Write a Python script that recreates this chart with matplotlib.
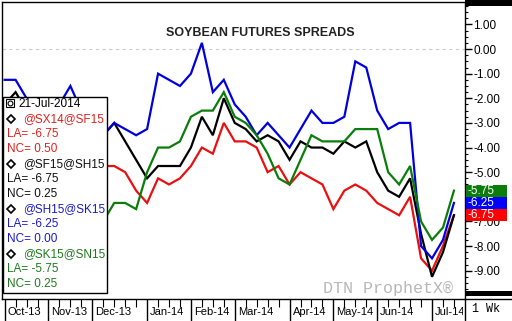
import matplotlib
matplotlib.use('Agg')
import matplotlib.pyplot as plt
import matplotlib.transforms as mtransforms
from matplotlib.patches import Rectangle
from matplotlib.lines import Line2D
from matplotlib.ticker import MultipleLocator
import numpy as np
import pandas as pd

W, H = 512, 321

# weekly (Monday) spread closes, Oct-2013 .. 21-Jul-2014
weeks = pd.date_range('2013-10-07', '2014-07-21', freq='W-MON')

sx14_sf15 = [-4.5, -4.25, -4.5, -4.75, -5.0, -4.75, -4.5, -4.75, -5.0, -4.75,
             -4.75, -5.0, -5.75, -6.25, -5.25, -5.5, -5.25, -4.75, -4.0, -4.25,
             -3.0, -3.75, -3.75, -4.0, -5.0, -4.75, -5.5, -5.0, -5.25, -5.5,
             -6.5, -5.75, -5.5, -5.75, -6.25, -6.5, -6.75, -6.0, -8.5, -9.0,
             -8.0, -6.75]
sf15_sh15 = [-2.25, -1.75, -2.5, -3.0, -3.25, -3.0, -2.75, -3.0, -3.5, -3.5,
             -3.0, -3.75, -4.5, -5.25, -4.75, -4.75, -4.75, -4.0, -2.75, -3.5,
             -2.0, -3.0, -3.25, -3.75, -3.5, -3.75, -4.5, -3.75, -4.0, -4.0,
             -4.25, -3.75, -4.0, -3.75, -5.0, -5.75, -6.0, -5.25, -7.5, -9.25,
             -8.25, -6.75]
sh15_sk15 = [-1.25, -1.25, -2.0, -2.25, -2.5, -2.25, -1.5, -2.5, -3.0, -3.5,
             -3.0, -3.25, -3.5, -3.25, -1.0, -1.25, -1.5, -1.0, 0.25, -1.75,
             -1.25, -2.25, -2.75, -3.5, -3.0, -3.5, -4.0, -3.25, -2.5, -3.0,
             -3.0, -2.75, -0.5, -0.75, -2.5, -3.25, -3.0, -3.0, -8.0, -8.5,
             -7.75, -6.25]
sk15_sn15 = [-6.5, -6.75, -7.0, -6.75, -6.5, -6.75, -7.0, -6.75, -6.75, -7.0,
             -6.25, -6.25, -6.5, -5.0, -4.0, -4.0, -3.75, -2.75, -2.5, -2.5,
             -1.75, -2.75, -3.0, -3.5, -4.25, -5.25, -5.5, -4.5, -3.5, -3.75,
             -3.75, -3.75, -3.25, -3.25, -3.25, -5.0, -5.5, -4.75, -7.0, -7.75,
             -7.25, -5.75]

series = [sx14_sf15, sf15_sh15, sh15_sk15, sk15_sn15]
names = ['@SX14@SF15', '@SF15@SH15', '@SH15@SK15', '@SK15@SN15']
net_change = [0.50, 0.25, 0.00, 0.25]
line_colors = ['#e81010', '#000000', '#0000dd', '#0a7d0a']
text_colors = ['#e0201c', '#111111', '#1a1acc', '#1f7a1f']
box_colors = ['#ff0000', '#0000ff', '#0a7d0a']  # red, blue, green tags
y_ticks = np.arange(-9, 2)

plt.rcParams['font.family'] = ['Liberation Sans', 'DejaVu Sans']


def fx(px):
    return px / W


def fy(py):
    return 1 - py / H


fig = plt.figure(figsize=(W / 100, H / 100), dpi=100)
ax = fig.add_axes([fx(2), fy(299), fx(465) - fx(2), fy(2) - fy(299)])

x = np.arange(len(weeks))
for vals, c in zip(series, line_colors):
    ax.plot(x, vals, color=c, lw=1.6, zorder=2, solid_joinstyle='miter')

ax.axhline(0, color='#cccccc', lw=0.8, ls=(0, (3, 3)), zorder=1)

ax.set_xlim(-0.24, 42.01)
ax.set_ylim(-10.15, 1.91)

# right value axis (the -6.00 label sits under the value tags)
ax.yaxis.tick_right()
ax.set_yticks(y_ticks)
ax.set_yticklabels(['' if v == -6 else f'{v:.2f}' for v in y_ticks])
ax.yaxis.set_minor_locator(MultipleLocator(0.25))
ax.tick_params(axis='y', which='major', length=5, width=1, pad=1, labelsize=8.5)
ax.tick_params(axis='y', which='minor', length=2.5, width=0.8)

# x axis: weekly ticks, month separators
month_start = [i for i in range(len(weeks)) if i == 0 or weeks[i].month != weeks[i - 1].month]
ax.set_xticks(month_start)
ax.set_xticklabels([])
ax.set_xticks(x, minor=True)
ax.tick_params(axis='x', which='major', length=16, width=1)
ax.tick_params(axis='x', which='minor', length=5.5, width=0.8)

for s in ax.spines.values():
    s.set_linewidth(1.0)
    s.set_color('black')

clip = mtransforms.TransformedBbox(mtransforms.Bbox([[0, 0], [fx(463), 1]]), fig.transFigure)
lab_trans = mtransforms.blended_transform_factory(ax.transData, fig.transFigure) + \
    mtransforms.ScaledTranslation(3 / 100, 0, fig.dpi_scale_trans)
for i in month_start:
    t = ax.text(i, fy(312), weeks[i].strftime('%b-%y'), transform=lab_trans,
                ha='left', va='center', fontsize=8)
    t.set_clip_on(True)
    t.set_clip_box(clip)

# last value tags on the right axis
tag_trans = mtransforms.blended_transform_factory(ax.transAxes, ax.transData)
for vals, c in zip([sk15_sn15, sh15_sk15, sx14_sf15], [box_colors[2], box_colors[1], box_colors[0]]):
    v = vals[-1]
    ax.add_patch(Rectangle((1.0 + 1 / 463, v - 0.245), 41 / 463, 0.49, transform=tag_trans,
                           facecolor=c, edgecolor='none', clip_on=False, zorder=5))
    ax.text(1.0 + 3 / 463, v, f'{v:.2f}', transform=tag_trans, color='white',
            fontsize=8.5, ha='left', va='center', zorder=6, clip_on=False)

# watermark
ax.text(fx(388), fy(288), 'DTN ProphetX®', transform=fig.transFigure, ha='center', va='center',
        fontsize=12, color='#b8b8b8', family=['Liberation Mono', 'DejaVu Sans Mono'], zorder=1)

# title
fig.text(fx(260), fy(33), 'SOYBEAN FUTURES SPREADS', ha='center', va='center',
         fontsize=9, weight='bold', color='#222222')

# right margin decorations
fig.add_artist(Rectangle((fx(465), fy(6)), fx(512) - fx(465), fy(0) - fy(6),
                         transform=fig.transFigure, facecolor='black', edgecolor='none'))
fig.add_artist(Rectangle((fx(465), fy(296)), fx(512) - fx(465), fy(291) - fy(296),
                         transform=fig.transFigure, facecolor='black', edgecolor='none'))
fig.add_artist(Line2D([fx(465), fx(512)], [fy(299), fy(299)], color='black', lw=1,
                      transform=fig.transFigure))
fig.add_artist(Line2D([fx(465), fx(465)], [fy(299), fy(321)], color='black', lw=1,
                      transform=fig.transFigure))
fig.text(fx(486), fy(309), '1 Wk', ha='center', va='center', fontsize=8.5,
         family=['Liberation Mono', 'DejaVu Sans Mono'])

# legend box
fig.add_artist(Rectangle((fx(3), fy(293)), fx(107) - fx(3), fy(97) - fy(293),
                         transform=fig.transFigure, facecolor='white', edgecolor='black',
                         lw=1, zorder=5))
fig.add_artist(Line2D([fx(10)], [fy(103)], marker='s', ms=6, mfc='white', mec='black',
                      mew=0.8, transform=fig.transFigure, zorder=6))
fig.add_artist(Line2D([fx(10)], [fy(103)], marker='o', ms=3.5, mfc='white', mec='black',
                      mew=0.8, transform=fig.transFigure, zorder=7))
fig.text(fx(18), fy(104), weeks[-1].strftime('%d-%b-%Y'), ha='left', va='center',
         fontsize=8.5, color='black', zorder=6)
row = 119
for name, vals, nc, tc in zip(names, series, net_change, text_colors):
    fig.add_artist(Line2D([fx(11)], [fy(row)], marker='D', ms=4.5, mfc='white', mec='black',
                          mew=1.2, transform=fig.transFigure, zorder=6))
    fig.text(fx(23), fy(row), name, ha='left', va='center', fontsize=8.5, color=tc, zorder=6)
    fig.text(fx(7), fy(row + 15), f'LA= {vals[-1]:.2f}', ha='left', va='center',
             fontsize=8.5, color=tc, zorder=6)
    fig.text(fx(7), fy(row + 30), f'NC= {nc:.2f}', ha='left', va='center',
             fontsize=8.5, color=tc, zorder=6)
    row += 45

fig.savefig('out.png', dpi=100)
